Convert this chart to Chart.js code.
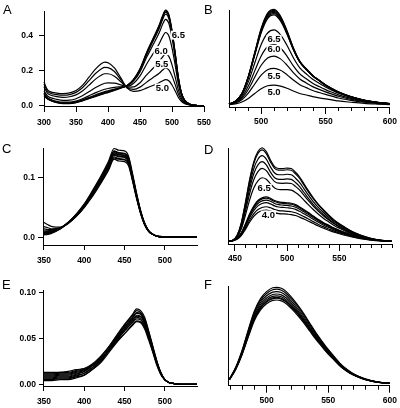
<!DOCTYPE html>
<html><head><meta charset="utf-8">
<script src="https://cdn.jsdelivr.net/npm/chart.js@4.4.1/dist/chart.umd.min.js"></script>
<style>
html,body{margin:0;padding:0;background:#fff;}
#wrap{position:relative;width:400px;height:408px;overflow:hidden;background:#fff;}
canvas{position:absolute;left:0;top:0;}
.lt{position:absolute;font-family:Arial,"Liberation Sans",Helvetica,sans-serif;font-size:13px;line-height:13px;color:#000;}
</style></head><body>
<div id="wrap">
<canvas id="cA" width="400" height="408"></canvas>
<canvas id="cB" width="400" height="408"></canvas>
<canvas id="cC" width="400" height="408"></canvas>
<canvas id="cD" width="400" height="408"></canvas>
<canvas id="cE" width="400" height="408"></canvas>
<canvas id="cF" width="400" height="408"></canvas>
<div class="lt" style="left:3px;top:3px">A</div>
<div class="lt" style="left:204px;top:3px">B</div>
<div class="lt" style="left:2px;top:142px">C</div>
<div class="lt" style="left:204px;top:143px">D</div>
<div class="lt" style="left:2px;top:278px">E</div>
<div class="lt" style="left:204px;top:278px">F</div>
</div>
<script>
// ---------- Panel A: absorbance vs wavelength (nm) ----------
const A_NM = [300,305,310,320,330,340,350,360,370,380,390,395,400,410,420,430,440,450,460,470,480,485,490,495,500,505,510,515,520,530,540,550];
const A_PH50 = [0.135,0.093,0.079,0.072,0.069,0.073,0.087,0.116,0.161,0.207,0.240,0.248,0.245,0.216,0.159,0.100,0.082,0.086,0.100,0.115,0.131,0.141,0.149,0.142,0.118,0.084,0.047,0.023,0.011,0.003,0.000,0.000];
const A_PH55 = [0.123,0.084,0.071,0.063,0.060,0.063,0.076,0.102,0.141,0.182,0.211,0.218,0.217,0.195,0.149,0.102,0.093,0.106,0.133,0.159,0.185,0.202,0.215,0.204,0.170,0.120,0.066,0.030,0.014,0.004,0.000,0.000];
const A_PH60 = [0.108,0.073,0.061,0.052,0.048,0.051,0.062,0.084,0.116,0.150,0.175,0.182,0.182,0.168,0.137,0.106,0.107,0.131,0.174,0.212,0.252,0.277,0.295,0.281,0.233,0.163,0.089,0.040,0.018,0.004,0.001,0.000];
const A_PH65 = [0.084,0.057,0.046,0.036,0.031,0.032,0.040,0.057,0.079,0.102,0.121,0.128,0.130,0.129,0.119,0.110,0.128,0.170,0.235,0.294,0.353,0.391,0.417,0.398,0.329,0.230,0.123,0.055,0.024,0.005,0.001,0.000];
const A_PH70 = [0.070,0.047,0.037,0.025,0.020,0.020,0.027,0.040,0.056,0.073,0.088,0.094,0.098,0.104,0.108,0.113,0.141,0.193,0.273,0.344,0.416,0.461,0.492,0.469,0.388,0.271,0.145,0.064,0.028,0.006,0.001,0.000];
const A_PH75 = [0.072,0.043,0.033,0.021,0.016,0.016,0.022,0.033,0.047,0.061,0.075,0.081,0.085,0.095,0.104,0.114,0.146,0.203,0.288,0.364,0.440,0.488,0.521,0.497,0.411,0.287,0.153,0.067,0.029,0.006,0.001,0.000];
const A_PH80 = [0.066,0.042,0.032,0.020,0.014,0.014,0.020,0.031,0.044,0.057,0.070,0.076,0.081,0.091,0.102,0.115,0.148,0.206,0.293,0.371,0.449,0.498,0.532,0.508,0.420,0.293,0.156,0.068,0.029,0.006,0.001,0.000];
const A_PH85 = [0.058,0.041,0.031,0.019,0.013,0.013,0.019,0.029,0.042,0.054,0.066,0.072,0.077,0.089,0.101,0.115,0.149,0.208,0.297,0.377,0.456,0.505,0.540,0.515,0.426,0.297,0.158,0.069,0.030,0.006,0.001,0.000];
const A_PH90 = [0.052,0.040,0.030,0.018,0.012,0.012,0.018,0.028,0.040,0.052,0.064,0.070,0.075,0.087,0.100,0.115,0.150,0.210,0.300,0.380,0.460,0.510,0.545,0.520,0.430,0.300,0.160,0.070,0.030,0.006,0.001,0.000];
const A_XTICKS = [300,350,400,450,500,550];
const A_YTICKS = [0.0,0.2,0.4];

// ---------- Panel B: emission ----------
const B_NM = [475,480,485,490,495,500,505,510,515,520,525,530,535,540,545,550,555,560,570,580,590,600];
const B_1 = [0.004,0.013,0.032,0.070,0.122,0.173,0.203,0.211,0.200,0.177,0.148,0.122,0.106,0.089,0.076,0.065,0.055,0.044,0.030,0.018,0.011,0.006];
const B_2 = [0.007,0.022,0.056,0.125,0.222,0.316,0.372,0.387,0.366,0.320,0.263,0.215,0.184,0.154,0.132,0.112,0.094,0.075,0.050,0.030,0.018,0.010];
const B_3 = [0.008,0.027,0.071,0.164,0.293,0.419,0.495,0.516,0.486,0.421,0.341,0.275,0.233,0.194,0.165,0.139,0.116,0.093,0.061,0.037,0.021,0.012];
const B_4 = [0.009,0.031,0.085,0.200,0.360,0.517,0.613,0.639,0.600,0.516,0.412,0.328,0.277,0.230,0.195,0.163,0.135,0.108,0.070,0.042,0.024,0.014];
const B_5 = [0.010,0.036,0.102,0.244,0.442,0.637,0.758,0.790,0.739,0.630,0.498,0.392,0.329,0.271,0.229,0.190,0.156,0.124,0.080,0.048,0.027,0.016];
const B_6 = [0.011,0.041,0.118,0.289,0.526,0.761,0.910,0.948,0.884,0.748,0.583,0.453,0.377,0.310,0.261,0.213,0.174,0.139,0.088,0.052,0.030,0.017];
const B_7 = [0.011,0.040,0.118,0.291,0.532,0.772,0.924,0.962,0.897,0.756,0.587,0.454,0.377,0.309,0.260,0.212,0.172,0.137,0.087,0.051,0.029,0.017];
const B_8 = [0.010,0.040,0.119,0.294,0.538,0.782,0.937,0.976,0.909,0.764,0.590,0.455,0.377,0.308,0.259,0.210,0.170,0.135,0.086,0.051,0.028,0.016];
const B_9 = [0.010,0.039,0.118,0.296,0.542,0.789,0.947,0.986,0.917,0.769,0.592,0.454,0.375,0.306,0.256,0.207,0.168,0.133,0.084,0.049,0.028,0.016];
const B_10 = [0.010,0.040,0.120,0.299,0.548,0.797,0.956,0.996,0.926,0.777,0.598,0.458,0.378,0.309,0.259,0.209,0.169,0.134,0.085,0.050,0.028,0.016];
const B_11 = [0.010,0.040,0.121,0.302,0.554,0.806,0.967,1.007,0.937,0.785,0.604,0.463,0.383,0.312,0.262,0.211,0.171,0.136,0.086,0.050,0.028,0.016];
const B_XMAJOR = [500,550,600];
const B_XMINOR = [480,490,510,520,530,540,560,570,580,590];

// ---------- Panel C: absorbance ----------
const C_NM = [350,355,360,370,380,390,400,410,420,430,437,443,450,455,460,465,470,475,480,485,490,500,510,520,530,540];
const C_1 = [0.025,0.021,0.018,0.017,0.024,0.035,0.050,0.068,0.089,0.112,0.131,0.128,0.127,0.120,0.094,0.065,0.040,0.021,0.010,0.005,0.002,0.001,0.000,0.001,0.000,0.000];
const C_2 = [0.018,0.016,0.014,0.016,0.023,0.035,0.051,0.070,0.091,0.114,0.133,0.131,0.130,0.123,0.096,0.066,0.040,0.021,0.010,0.005,0.002,0.000,0.001,0.000,0.000,0.001];
const C_3 = [0.014,0.013,0.013,0.015,0.023,0.035,0.051,0.071,0.092,0.115,0.135,0.132,0.131,0.124,0.097,0.067,0.041,0.021,0.010,0.005,0.002,0.000,0.000,0.000,0.001,0.000];
const C_4 = [0.011,0.011,0.012,0.015,0.024,0.036,0.052,0.072,0.094,0.118,0.138,0.135,0.134,0.126,0.099,0.068,0.042,0.022,0.010,0.005,0.002,0.000,0.000,0.001,0.000,0.000];
const C_5 = [0.009,0.010,0.011,0.015,0.024,0.036,0.053,0.073,0.095,0.119,0.139,0.136,0.135,0.128,0.100,0.069,0.042,0.022,0.011,0.005,0.002,0.001,0.000,0.000,0.000,0.001];
const C_6 = [0.008,0.009,0.011,0.016,0.024,0.037,0.053,0.074,0.096,0.120,0.141,0.138,0.137,0.129,0.101,0.070,0.043,0.022,0.011,0.005,0.002,0.000,0.001,0.000,0.000,0.000];
const C_7 = [0.007,0.008,0.010,0.015,0.025,0.037,0.054,0.074,0.097,0.122,0.142,0.139,0.138,0.130,0.102,0.071,0.043,0.023,0.011,0.005,0.002,0.000,0.000,0.000,0.001,0.000];
const C_8 = [0.006,0.007,0.009,0.015,0.025,0.038,0.054,0.075,0.098,0.123,0.144,0.141,0.140,0.132,0.103,0.071,0.044,0.023,0.011,0.005,0.002,0.001,0.000,0.000,0.000,0.000];
const C_9 = [0.005,0.006,0.008,0.014,0.025,0.038,0.055,0.076,0.099,0.124,0.145,0.142,0.141,0.133,0.104,0.072,0.044,0.023,0.011,0.005,0.002,0.000,0.001,0.000,0.000,0.000];
const C_10 = [0.004,0.005,0.007,0.014,0.025,0.039,0.056,0.078,0.101,0.127,0.149,0.146,0.145,0.136,0.107,0.074,0.045,0.024,0.011,0.005,0.002,0.000,0.000,0.001,0.000,0.000];
const C_XTICKS = [350,400,450,500];
const C_YTICKS = [0.0,0.1];

// ---------- Panel D: emission ----------
const D_NM = [444,448,452,456,460,464,468,472,476,480,484,488,492,496,500,504,508,512,516,520,525,530,535,540,545,550,555,560,570,580,590,600];
const D_1 = [0.010,0.020,0.070,0.201,0.421,0.662,0.853,0.963,1.003,0.963,0.873,0.802,0.782,0.782,0.787,0.782,0.742,0.692,0.622,0.552,0.471,0.401,0.341,0.286,0.236,0.196,0.160,0.125,0.075,0.040,0.020,0.010];
const D_2 = [0.010,0.020,0.069,0.196,0.412,0.647,0.833,0.941,0.980,0.941,0.853,0.784,0.764,0.764,0.769,0.764,0.725,0.676,0.608,0.539,0.461,0.392,0.333,0.279,0.230,0.191,0.157,0.123,0.074,0.039,0.020,0.010];
const D_3 = [0.009,0.018,0.064,0.184,0.386,0.606,0.780,0.881,0.918,0.881,0.799,0.734,0.716,0.716,0.721,0.716,0.679,0.633,0.569,0.505,0.431,0.367,0.312,0.262,0.216,0.179,0.147,0.115,0.069,0.037,0.018,0.009];
const D_4 = [0.009,0.017,0.060,0.171,0.359,0.564,0.727,0.821,0.855,0.821,0.744,0.684,0.667,0.667,0.671,0.667,0.633,0.590,0.530,0.470,0.402,0.342,0.291,0.244,0.201,0.167,0.137,0.107,0.064,0.034,0.017,0.009];
const D_5 = [0.009,0.018,0.057,0.157,0.328,0.514,0.662,0.750,0.784,0.759,0.696,0.643,0.626,0.625,0.627,0.623,0.592,0.553,0.499,0.445,0.382,0.326,0.278,0.234,0.194,0.161,0.132,0.104,0.063,0.034,0.018,0.009];
const D_6 = [0.009,0.018,0.052,0.138,0.285,0.446,0.574,0.652,0.684,0.669,0.619,0.575,0.559,0.557,0.558,0.553,0.528,0.493,0.447,0.401,0.346,0.296,0.252,0.214,0.177,0.148,0.121,0.096,0.059,0.033,0.017,0.009];
const D_7 = [0.010,0.019,0.043,0.096,0.192,0.298,0.384,0.442,0.470,0.480,0.466,0.442,0.427,0.422,0.418,0.413,0.398,0.374,0.346,0.317,0.278,0.240,0.206,0.178,0.149,0.125,0.103,0.084,0.053,0.031,0.017,0.010];
const D_8 = [0.009,0.019,0.042,0.094,0.187,0.290,0.374,0.431,0.459,0.468,0.454,0.431,0.417,0.412,0.407,0.402,0.388,0.365,0.337,0.309,0.271,0.234,0.201,0.173,0.145,0.122,0.101,0.082,0.051,0.030,0.016,0.009];
const D_9 = [0.009,0.018,0.040,0.089,0.179,0.277,0.358,0.411,0.438,0.447,0.434,0.411,0.398,0.393,0.389,0.384,0.371,0.349,0.322,0.295,0.259,0.224,0.192,0.165,0.139,0.116,0.096,0.078,0.049,0.029,0.016,0.009];
const D_10 = [0.008,0.017,0.038,0.084,0.168,0.260,0.335,0.385,0.411,0.419,0.406,0.385,0.373,0.369,0.365,0.360,0.348,0.327,0.302,0.277,0.243,0.210,0.180,0.155,0.130,0.109,0.090,0.073,0.046,0.027,0.015,0.008];
const D_11 = [0.008,0.015,0.034,0.075,0.150,0.233,0.301,0.346,0.368,0.376,0.365,0.346,0.335,0.331,0.327,0.323,0.312,0.293,0.271,0.248,0.218,0.188,0.162,0.139,0.117,0.098,0.081,0.066,0.041,0.024,0.013,0.008];
const D_12 = [0.007,0.014,0.031,0.068,0.136,0.211,0.273,0.314,0.334,0.341,0.331,0.314,0.303,0.300,0.297,0.293,0.283,0.266,0.246,0.225,0.198,0.171,0.147,0.126,0.106,0.089,0.073,0.060,0.038,0.022,0.012,0.007];
const D_XMAJOR = [450,500,550];
const D_XMINOR = [460,470,480,490,510,520,530,540,560,570,580,590,600];

// ---------- Panel E: absorbance ----------
const E_NM = [350,360,370,380,390,400,410,420,430,440,450,460,465,470,475,480,485,490,495,500,505,510,520,530,540];
const E_1 = [0.013,0.013,0.013,0.014,0.016,0.017,0.021,0.027,0.036,0.046,0.055,0.064,0.068,0.067,0.060,0.048,0.035,0.021,0.011,0.005,0.002,0.001,0.000,0.000,0.000];
const E_2 = [0.005,0.005,0.006,0.006,0.008,0.010,0.016,0.023,0.034,0.045,0.055,0.065,0.069,0.068,0.062,0.050,0.036,0.022,0.011,0.005,0.002,0.001,0.000,0.000,0.000];
const E_3 = [0.011,0.011,0.012,0.012,0.014,0.016,0.021,0.027,0.037,0.048,0.058,0.067,0.071,0.070,0.063,0.051,0.037,0.023,0.011,0.005,0.002,0.001,0.000,0.000,0.000];
const E_4 = [0.007,0.007,0.008,0.008,0.010,0.012,0.018,0.025,0.036,0.047,0.058,0.068,0.073,0.071,0.064,0.052,0.037,0.023,0.012,0.005,0.002,0.001,0.000,0.000,0.000];
const E_5 = [0.009,0.009,0.010,0.010,0.012,0.014,0.020,0.027,0.037,0.049,0.060,0.070,0.074,0.073,0.066,0.053,0.038,0.024,0.012,0.005,0.002,0.001,0.000,0.000,0.000];
const E_6 = [0.004,0.004,0.005,0.005,0.007,0.010,0.016,0.024,0.036,0.048,0.060,0.070,0.075,0.074,0.067,0.054,0.039,0.024,0.012,0.005,0.002,0.001,0.000,0.000,0.000];
const E_7 = [0.012,0.012,0.013,0.013,0.015,0.017,0.022,0.030,0.040,0.051,0.062,0.072,0.077,0.076,0.068,0.055,0.040,0.024,0.012,0.005,0.002,0.001,0.000,0.000,0.000];
const E_8 = [0.006,0.006,0.007,0.007,0.009,0.012,0.018,0.026,0.038,0.050,0.062,0.073,0.078,0.077,0.069,0.056,0.040,0.025,0.012,0.005,0.002,0.001,0.000,0.000,0.000];
const E_9 = [0.010,0.010,0.011,0.011,0.013,0.015,0.021,0.029,0.040,0.052,0.064,0.075,0.080,0.078,0.071,0.057,0.041,0.025,0.013,0.005,0.002,0.001,0.000,0.000,0.000];
const E_10 = [0.008,0.008,0.009,0.009,0.011,0.014,0.020,0.029,0.040,0.053,0.065,0.076,0.082,0.080,0.073,0.058,0.042,0.026,0.013,0.005,0.002,0.001,0.000,0.000,0.000];
const E_XTICKS = [350,400,450,500];
const E_YTICKS = [0.00,0.05,0.10];

// ---------- Panel F: emission ----------
const F_NM = [470,475,480,485,490,495,500,505,508,512,516,520,525,530,535,540,545,550,555,560,565,570,575,580,585,590,595,600];
const F_1 = [0.050,0.169,0.338,0.547,0.746,0.875,0.949,0.989,0.994,0.984,0.949,0.895,0.815,0.726,0.626,0.527,0.437,0.353,0.278,0.204,0.149,0.106,0.075,0.050,0.032,0.019,0.010,0.004];
const F_2 = [0.049,0.166,0.331,0.536,0.731,0.857,0.930,0.969,0.974,0.964,0.930,0.877,0.799,0.711,0.614,0.516,0.429,0.346,0.273,0.200,0.146,0.104,0.073,0.049,0.031,0.019,0.010,0.004];
const F_3 = [0.047,0.161,0.323,0.522,0.712,0.835,0.906,0.944,0.949,0.940,0.906,0.854,0.778,0.693,0.598,0.503,0.418,0.337,0.266,0.195,0.142,0.102,0.071,0.047,0.030,0.018,0.009,0.004];
const F_4 = [0.046,0.157,0.315,0.509,0.694,0.814,0.883,0.920,0.925,0.916,0.883,0.833,0.759,0.675,0.583,0.490,0.407,0.328,0.259,0.190,0.139,0.099,0.069,0.046,0.030,0.018,0.009,0.004];
const F_5 = [0.045,0.154,0.308,0.498,0.679,0.796,0.864,0.900,0.905,0.896,0.864,0.815,0.742,0.661,0.570,0.480,0.398,0.321,0.253,0.186,0.136,0.097,0.068,0.045,0.029,0.017,0.009,0.004];
const F_6 = [0.045,0.151,0.303,0.490,0.668,0.783,0.850,0.886,0.890,0.881,0.850,0.801,0.730,0.650,0.561,0.472,0.392,0.316,0.249,0.182,0.134,0.095,0.067,0.045,0.028,0.017,0.009,0.004];
const F_7 = [0.044,0.150,0.300,0.485,0.661,0.775,0.841,0.877,0.881,0.872,0.841,0.793,0.722,0.643,0.555,0.467,0.388,0.313,0.247,0.181,0.132,0.094,0.066,0.044,0.028,0.017,0.009,0.004];
const F_8 = [0.043,0.147,0.293,0.475,0.647,0.759,0.824,0.859,0.863,0.854,0.824,0.777,0.708,0.630,0.544,0.457,0.380,0.306,0.242,0.177,0.129,0.092,0.065,0.043,0.028,0.016,0.009,0.003];
const F_XMAJOR = [500,550,600];
const F_XMINOR = [470,480,490,510,520,530,540,560,570,580,590];

// pH tag texts
const A_TAGS = ['6.5','6.0','5.5','5.0'];
const B_TAGS = ['6.5','6.0','5.5','5.0'];
const D_TAGS = ['6.5','4.0'];

// ---------- rendering ----------
const FONT = 'Arial, "Liberation Sans", Helvetica, sans-serif';
Chart.defaults.font.family = FONT;
const XH = 25;

const tagPlugin = {
  id: 'tags',
  afterDatasetsDraw(chart, args, o) {
    const ctx = chart.ctx, x = chart.scales.x, y = chart.scales.y;
    ctx.save();
    if (o.minor) {
      ctx.strokeStyle = '#000'; ctx.lineWidth = 1;
      for (const v of o.minor) {
        const px = Math.round(x.getPixelForValue(v)) + 0.5;
        ctx.beginPath(); ctx.moveTo(px, x.top); ctx.lineTo(px, x.top + o.minorLen); ctx.stroke();
      }
    }
    if (o.tags) {
      ctx.font = o.font; ctx.textAlign = 'center'; ctx.textBaseline = 'middle';
      for (const t of o.tags) {
        const px = x.getPixelForValue(t.x), py = y.getPixelForValue(t.y);
        const w = ctx.measureText(t.text).width;
        ctx.fillStyle = '#fff'; ctx.fillRect(px - w/2 - 1, py - 4.5, w + 2, 9);
        ctx.fillStyle = '#000'; ctx.fillText(t.text, px, py + 0.5);
      }
    }
    ctx.restore();
  }
};

function makePanel(id, p) {
  const datasets = p.series.map(s => ({
    data: p.nm.map((n, i) => ({x: n, y: s[i]})),
    borderColor: '#000', borderWidth: 1.2, pointRadius: 0,
    cubicInterpolationMode: 'monotone', fill: false, clip: false
  }));
  const tickFont = {size: 8.5, weight: 'bold'};
  const yAxis = {
    type: 'linear', min: p.ymin, max: p.ymax,
    afterBuildTicks: ax => { ax.ticks = (p.yticks || []).map(v => ({value: v})); },
    afterFit: ax => { ax.width = p.yw; },
    grid: {display: !!p.yticks, drawOnChartArea: false, drawTicks: true, tickLength: p.ytl || 5, color: '#000', tickColor: '#000', tickWidth: 1},
    border: {display: true, color: '#000', width: 1},
    ticks: {display: !!p.yticks, color: '#000', font: tickFont, padding: p.ypad || 5,
            callback: v => p.yfmt ? p.yfmt(v) : ''}
  };
  const xAxis = {
    type: 'linear', min: p.xmin, max: p.xmax,
    afterBuildTicks: ax => { ax.ticks = p.xmajor.map(v => ({value: v})); },
    afterFit: ax => { ax.height = XH; },
    grid: {display: true, drawOnChartArea: false, drawTicks: true, tickLength: p.xtl, color: '#000', tickColor: '#000', tickWidth: 1},
    border: {display: true, color: '#000', width: 1},
    ticks: {color: '#000', font: tickFont, padding: p.xpad, maxRotation: 0, autoSkip: false,
            callback: v => (p.xlabels.includes(v) ? String(v) : '')}
  };
  return new Chart(document.getElementById(id), {
    type: 'line',
    data: {datasets},
    options: {
      responsive: false, animation: false, devicePixelRatio: 1,
      events: [],
      layout: {padding: {left: p.L - p.yw, right: 400 - p.R, top: p.T, bottom: 408 - p.B - XH}},
      plugins: {legend: {display: false}, tooltip: {enabled: false},
                tags: {minor: p.minor, minorLen: 4, tags: p.tags, font: 'bold 9.5px ' + FONT}},
      scales: {x: xAxis, y: yAxis}
    },
    plugins: [tagPlugin]
  });
}

makePanel('cA', {
  nm: A_NM, series: [A_PH50, A_PH55, A_PH60, A_PH65, A_PH70, A_PH75, A_PH80, A_PH85, A_PH90],
  L: 44, R: 204, T: 10, B: 107, yw: 40,
  xmin: 300, xmax: 550, ymin: -0.0073, ymax: 0.539,
  xmajor: A_XTICKS, xlabels: A_XTICKS, xtl: 5, xpad: 6,
  yticks: A_YTICKS, yfmt: v => v.toFixed(1), ytl: 5, ypad: 6,
  tags: [{text: A_TAGS[0], x: 510, y: 0.402}, {text: A_TAGS[1], x: 483, y: 0.314},
         {text: A_TAGS[2], x: 484, y: 0.239}, {text: A_TAGS[3], x: 485, y: 0.101}]
});
makePanel('cB', {
  nm: B_NM, series: [B_1, B_2, B_3, B_4, B_5, B_6, B_7, B_8, B_9, B_10, B_11],
  L: 229, R: 390.7, T: 10, B: 107, yw: 5,
  xmin: 475, xmax: 600, ymin: -0.02, ymax: 1.0,
  xmajor: B_XMAJOR, xlabels: B_XMAJOR, xtl: 7, xpad: 3, minor: B_XMINOR,
  tags: [{text: B_TAGS[0], x: 510, y: 0.692}, {text: B_TAGS[1], x: 510, y: 0.587},
         {text: B_TAGS[2], x: 510, y: 0.306}, {text: B_TAGS[3], x: 510, y: 0.141}]
});
makePanel('cC', {
  nm: C_NM, series: [C_1, C_2, C_3, C_4, C_5, C_6, C_7, C_8, C_9, C_10],
  L: 43, R: 197, T: 148, B: 245, yw: 40,
  xmin: 348.8, xmax: 540, ymin: -0.0129, ymax: 0.1498,
  xmajor: C_XTICKS, xlabels: C_XTICKS, xtl: 5, xpad: 6,
  yticks: C_YTICKS, yfmt: v => v.toFixed(1), ytl: 5, ypad: 3
});
makePanel('cD', {
  nm: D_NM, series: [D_1, D_2, D_3, D_4, D_5, D_6, D_7, D_8, D_9, D_10, D_11, D_12],
  L: 228.3, R: 391.5, T: 148, B: 244, yw: 5,
  xmin: 443.6, xmax: 600, ymin: -0.02, ymax: 1.0,
  xmajor: D_XMAJOR, xlabels: D_XMAJOR, xtl: 7, xpad: 3, minor: D_XMINOR,
  tags: [{text: D_TAGS[0], x: 478, y: 0.572}, {text: D_TAGS[1], x: 482, y: 0.288}]
});
makePanel('cE', {
  nm: E_NM, series: [E_1, E_2, E_3, E_4, E_5, E_6, E_7, E_8, E_9, E_10],
  L: 43, R: 197, T: 290.7, B: 386, yw: 40,
  xmin: 348.8, xmax: 540, ymin: -0.00185, ymax: 0.1017,
  xmajor: E_XTICKS, xlabels: E_XTICKS, xtl: 5, xpad: 6,
  yticks: E_YTICKS, yfmt: v => v.toFixed(2), ytl: 4, ypad: 3
});
makePanel('cF', {
  nm: F_NM, series: [F_1, F_2, F_3, F_4, F_5, F_6, F_7, F_8],
  L: 228.3, R: 390, T: 286.7, B: 385.7, yw: 5,
  xmin: 469, xmax: 600, ymin: -0.02, ymax: 1.0,
  xmajor: F_XMAJOR, xlabels: F_XMAJOR, xtl: 7, xpad: 3, minor: F_XMINOR
});
</script>
</body></html>
